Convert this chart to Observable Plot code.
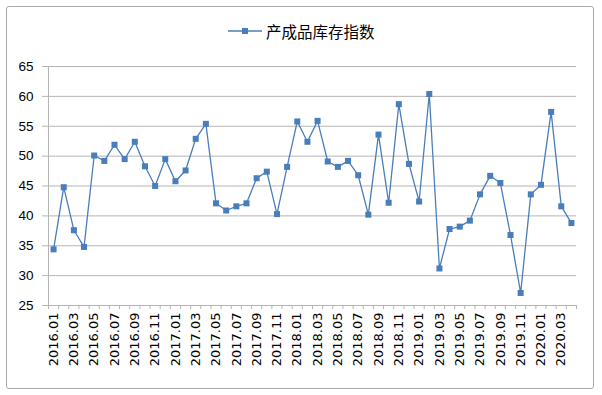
<!DOCTYPE html>
<html>
<head>
<meta charset="utf-8">
<script src="https://cdn.jsdelivr.net/npm/d3@7"></script>
<script src="https://cdn.jsdelivr.net/npm/@observablehq/plot@0.6"></script>
<style>
  html, body { margin: 0; padding: 0; background: #fff; }
  #wrap { position: relative; width: 602px; height: 395px; overflow: hidden; background: #fff; }
  #border { position: absolute; left: 6px; top: 6px; width: 588px; height: 383px; border: 1.5px solid #a9a9a9; border-radius: 3px; box-sizing: border-box; }
  #legend { position: absolute; left: 228px; top: 19px; height: 24px; display: flex; align-items: center; font-family: "Noto Sans CJK SC", sans-serif; font-size: 15.5px; color: #000; }
  #legend svg { margin-right: 4px; }
  #chart { position: absolute; left: 0; top: 50px; }
</style>
</head>
<body>
<div id="wrap">
  <div id="border"></div>
  <div id="legend"></div>
  <div id="chart"></div>
</div>
<script>
const seriesName = "产成品库存指数";
const months = [
  "2016.01","2016.02","2016.03","2016.04","2016.05","2016.06","2016.07","2016.08","2016.09","2016.10","2016.11","2016.12",
  "2017.01","2017.02","2017.03","2017.04","2017.05","2017.06","2017.07","2017.08","2017.09","2017.10","2017.11","2017.12",
  "2018.01","2018.02","2018.03","2018.04","2018.05","2018.06","2018.07","2018.08","2018.09","2018.10","2018.11","2018.12",
  "2019.01","2019.02","2019.03","2019.04","2019.05","2019.06","2019.07","2019.08","2019.09","2019.10","2019.11","2019.12",
  "2020.01","2020.02","2020.03","2020.04"
];
const values = [
  34.4, 44.8, 37.6, 34.8, 50.1, 49.2, 51.9, 49.5, 52.4, 48.3, 45.0, 49.5,
  45.8, 47.6, 52.9, 55.4, 42.1, 40.9, 41.6, 42.1, 46.3, 47.4, 40.3, 48.2,
  55.8, 52.4, 55.9, 49.1, 48.2, 49.2, 46.8, 40.2, 53.6, 42.2, 58.7, 48.7,
  42.4, 60.4, 31.2, 37.8, 38.2, 39.2, 43.6, 46.7, 45.5, 36.8, 27.1, 43.6,
  45.2, 57.4, 41.6, 38.8
];
const yTicks = [25, 30, 35, 40, 45, 50, 55, 60, 65];

const lineColor = "#4A7EBB";
const markColor = "#4A7EBB";

// legend
document.getElementById("legend").innerHTML =
  `<svg width="34" height="12"><line x1="0" y1="6" x2="34" y2="6" stroke="${lineColor}" stroke-width="1.5"/>` +
  `<rect x="14" y="3" width="6" height="6" fill="${markColor}"/></svg><span>${seriesName}</span>`;

const data = months.map((m, i) => ({i, month: m, value: values[i]}));
const xDomain = [-0.5, months.length - 0.5];
const boundaries = d3.range(-0.5, months.length, 1);
const labelIdx = d3.range(0, months.length, 2);

const chart = Plot.plot({
  width: 602,
  height: 345,
  marginLeft: 48,
  marginRight: 26,
  marginTop: 16,
  marginBottom: 90,
  style: {fontFamily: "'Liberation Sans', Arial, sans-serif", fontSize: "13px", background: "transparent", overflow: "visible"},
  x: {type: "linear", domain: xDomain, axis: null, label: null},
  y: {type: "linear", domain: [25, 65], axis: null, label: null},
  marks: [
    Plot.gridY(yTicks, {stroke: "#b5b5b5", strokeOpacity: 1, strokeWidth: 1}),
    Plot.axisY(yTicks, {label: null, tickSize: 6, tickPadding: 9, stroke: "#b5b5b5", fill: "#000", fontSize: 13.5}),
    Plot.ruleX([xDomain[0]], {stroke: "#b5b5b5", strokeWidth: 1}),
    Plot.ruleY([25], {stroke: "#b5b5b5", strokeWidth: 1}),
    Plot.axisX(boundaries, {label: null, tickSize: 4, tickFormat: () => "", stroke: "#b5b5b5"}),
    Plot.axisX(labelIdx, {label: null, tickSize: 0, tickPadding: 7, tickRotate: -90, tickFormat: i => months[i], fill: "#000",
      fontFamily: "'DejaVu Sans', Verdana, sans-serif", fontSize: 13, style: {letterSpacing: "1.3px"}}),
    Plot.line(data, {x: "i", y: "value", stroke: lineColor, strokeWidth: 1.3}),
    Plot.dot(data, {x: "i", y: "value", symbol: "square", r: 3.4, fill: markColor, stroke: null})
  ]
});
document.getElementById("chart").appendChild(chart);
</script>
</body>
</html>
